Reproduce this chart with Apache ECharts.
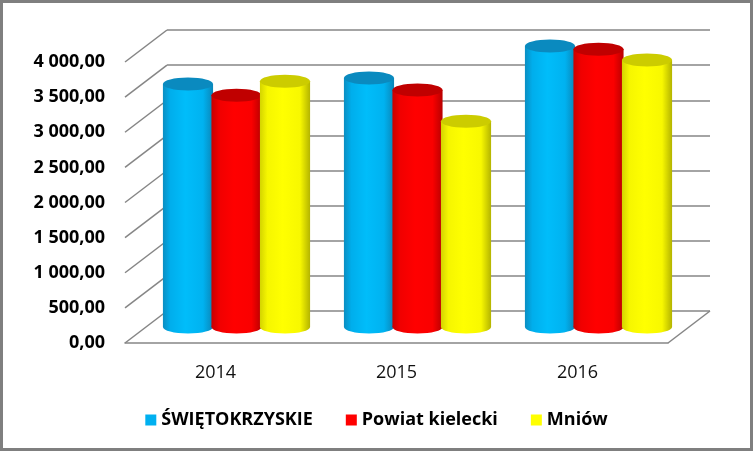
<!DOCTYPE html>
<html>
<head>
<meta charset="utf-8">
<script src="https://cdn.jsdelivr.net/npm/echarts@6/dist/echarts.min.js"></script>
<style>
html,body{margin:0;padding:0;background:#fff;}
#main{width:753px;height:451px;}
</style>
</head>
<body>
<div id="main"></div>
<script>
//dane wykresu
var years = ['2014', '2015', '2016'];
var seriesNames = ['ŚWIĘTOKRZYSKIE', 'Powiat kielecki', 'Mniów'];
var swietokrzyskie = [3460, 3545, 4000];
var powiatKielecki = [3300, 3375, 3955];
var mniow = [3500, 2930, 3800];
var yTicks = [0, 500, 1000, 1500, 2000, 2500, 3000, 3500, 4000];

//siatki: przednia plaszczyzna, tylna sciana i srodek (walce)
var FRONT = {left: 125, right: 85, top: 62, bottom: 108};
var BACK = {left: 167, right: 43, top: 30, bottom: 140};
var MID = {left: 146, right: 64, top: 46, bottom: 124};
var DX = BACK.left - FRONT.left, DY = BACK.top - FRONT.top;

//kolory walcow: gradient boku i wierzch
var palette = [
	{base: '#00B0F0', stops: ['#0A8EC2', '#00AEEC', '#00BDFA', '#00B2F0', '#0A86B8'], top: '#0A8ABF'},
	{base: '#FF0000', stops: ['#C80000', '#F00000', '#FF0000', '#FA0000', '#B80000'], top: '#C00000'},
	{base: '#FFFF00', stops: ['#D4D400', '#F6F600', '#FFFF00', '#F8F800', '#B4B400'], top: '#CCCC00'}
];
var allValues = [swietokrzyskie, powiatKielecki, mniow];

function fmt(v){
	var s = v.toFixed(2).replace('.', ',');
	var parts = s.split(',');
	parts[0] = parts[0].replace(/\B(?=(\d{3})+(?!\d))/g, ' ');
	return parts[0] + ',' + parts[1];
}

function bodyGradient(stops){
	return new echarts.graphic.LinearGradient(0, 0, 1, 0, [
		{offset: 0, color: stops[0]},
		{offset: 0.15, color: stops[1]},
		{offset: 0.45, color: stops[2]},
		{offset: 0.8, color: stops[3]},
		{offset: 1, color: stops[4]}
	]);
}

//walec dla danej serii
function makeCylinder(idx){
	var col = palette[idx];
	return function(params, api){
		var cat = api.value(0);
		var top = api.coord([cat, api.value(1)]);
		var base = api.coord([cat, 0]);
		var band = api.size([1, 0])[0];
		var step = band * 0.268;
		var bw = band * 0.277;
		var cx = base[0] + (idx - 1) * step;
		var x = cx - bw / 2;
		var ry = 6.5;
		return {
			type: 'group',
			children: [
				{type: 'ellipse', shape: {cx: cx, cy: base[1], rx: bw / 2, ry: ry},
					style: {fill: bodyGradient(col.stops)}},
				{type: 'rect', shape: {x: x, y: top[1], width: bw, height: base[1] - top[1]},
					style: {fill: bodyGradient(col.stops)}},
				{type: 'ellipse', shape: {cx: cx, cy: top[1], rx: bw / 2, ry: ry},
					style: {fill: col.top}}
			]
		};
	};
}

var myChart = echarts.init(document.getElementById('main'));

var yAxisBase = {type: 'value', min: 0, max: 4000, interval: 500};
var series = [];

//ukosne linie laczace etykiety z tylna sciana
series.push({
	type: 'custom',
	xAxisIndex: 1, yAxisIndex: 1,
	silent: true,
	data: yTicks.map(function(v){ return [0, v]; }),
	renderItem: function(params, api){
		var p = api.coord([0, api.value(1)]);
		var band = api.size([1, 0])[0];
		var xl = p[0] - band / 2;
		var lineStyle = {stroke: '#868686', lineWidth: 1.5};
		var children = [{type: 'line', shape: {x1: xl, y1: p[1], x2: xl + DX, y2: p[1] + DY}, style: lineStyle}];
		if (api.value(1) === 0) {
			var xr = xl + band * years.length;
			children.push({type: 'line', shape: {x1: xr, y1: p[1], x2: xr + DX, y2: p[1] + DY}, style: lineStyle});
		}
		return {type: 'group', children: children};
	}
});

seriesNames.forEach(function(name, i){
	series.push({
		name: name,
		type: 'custom',
		xAxisIndex: 2, yAxisIndex: 2,
		itemStyle: {color: palette[i].base},
		data: allValues[i].map(function(v, j){ return [j, v]; }),
		renderItem: makeCylinder(i)
	});
});

var option = {
	animation: false,
	backgroundColor: '#ffffff',
	grid: [
		{left: BACK.left, right: BACK.right, top: BACK.top, bottom: BACK.bottom},
		{left: FRONT.left, right: FRONT.right, top: FRONT.top, bottom: FRONT.bottom},
		{left: MID.left, right: MID.right, top: MID.top, bottom: MID.bottom}
	],
	xAxis: [
		{type: 'category', gridIndex: 0, data: years, show: false},
		{
			type: 'category', gridIndex: 1, data: years,
			axisLine: {show: true, lineStyle: {color: '#868686', width: 1.5}},
			axisTick: {show: false},
			axisLabel: {margin: 21, color: '#111', fontSize: 18, fontFamily: 'Open Sans'}
		},
		{type: 'category', gridIndex: 2, data: years, show: false}
	],
	yAxis: [
		echarts.util.merge({
			gridIndex: 0,
			axisLine: {show: false}, axisTick: {show: false}, axisLabel: {show: false},
			splitLine: {show: true, lineStyle: {color: '#868686', width: 1.5}}
		}, yAxisBase),
		echarts.util.merge({
			gridIndex: 1,
			axisLine: {show: false}, axisTick: {show: false},
			splitLine: {show: false},
			axisLabel: {
				margin: 20, color: '#000', fontSize: 18, fontWeight: 'bold', fontFamily: 'Open Sans',
				formatter: fmt
			}
		}, yAxisBase),
		echarts.util.merge({gridIndex: 2, show: false, splitLine: {show: false}}, yAxisBase)
	],
	legend: {
		top: 406,
		left: 'center',
		icon: 'rect',
		itemWidth: 11,
		itemHeight: 11,
		itemGap: 33,
		data: seriesNames,
		textStyle: {color: '#000', fontSize: 18, fontWeight: 'bold', fontFamily: 'Open Sans'}
	},
	graphic: [{
		type: 'rect',
		silent: true,
		shape: {x: 1.5, y: 1.5, width: 750, height: 448},
		style: {fill: null, stroke: '#7F7F7F', lineWidth: 3}
	}],
	series: series
};
myChart.setOption(option);
</script>
</body>
</html>
